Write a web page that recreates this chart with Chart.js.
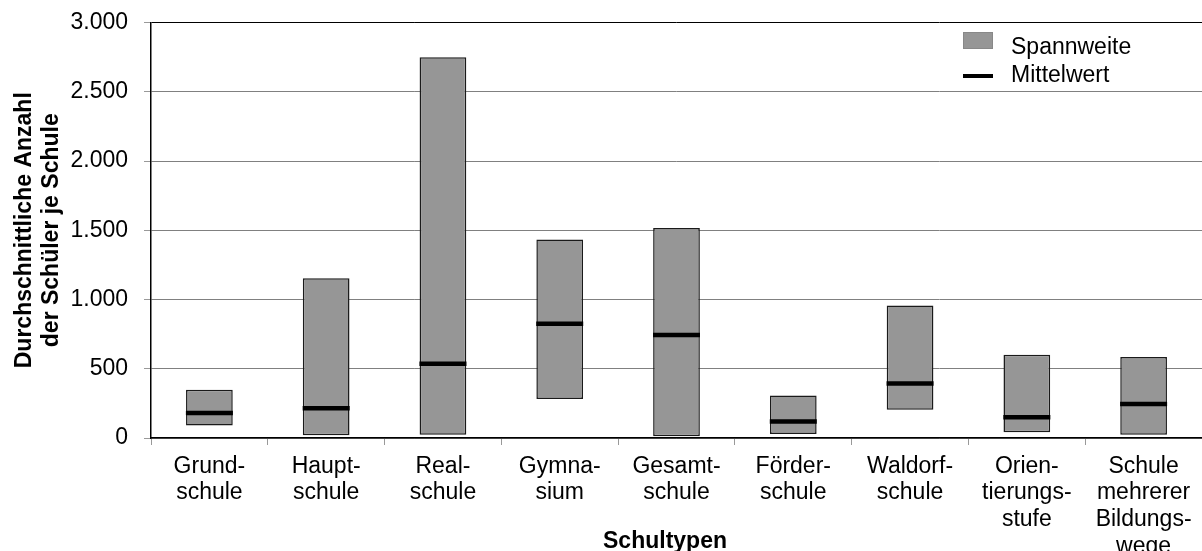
<!DOCTYPE html>
<html>
<head>
<meta charset="utf-8">
<script src="https://cdn.jsdelivr.net/npm/chart.js@4/dist/chart.umd.min.js"></script>
<style>
  body { margin: 0; background: #fff; }
  canvas { display: block; }
</style>
</head>
<body>
<canvas id="chart" width="1202" height="551"></canvas>
<script>
// Schultypen
const categories = [
    ['Grund-', 'schule'],
    ['Haupt-', 'schule'],
    ['Real-', 'schule'],
    ['Gymna-', 'sium'],
    ['Gesamt-', 'schule'],
    ['Förder-', 'schule'],
    ['Waldorf-', 'schule'],
    ['Orien-', 'tierungs-', 'stufe'],
    ['Schule', 'mehrerer', 'Bildungs-', 'wege']
];
// Spannweite (min / max) und Mittelwert
const minValues = [91, 19, 24, 281, 12, 29, 204, 41, 24];
const maxValues = [348, 1154, 2749, 1433, 1517, 307, 957, 601, 584];
const meanValues = [180, 214, 536, 825, 743, 120, 394, 149, 245];
const yTickLabels = ['0', '500', '1.000', '1.500', '2.000', '2.500', '3.000'];

const FONT = "'Liberation Sans', Arial, sans-serif";
Chart.defaults.font.family = FONT;
Chart.defaults.color = '#000';

// legend inside the plot (top right) and x axis title
const legendPlugin = {
    id: 'rangeLegend',
    afterDraw(chart) {
        const ctx = chart.ctx;
        ctx.save();
        ctx.fillStyle = '#969696';
        ctx.fillRect(963, 32, 30, 17);
        ctx.strokeStyle = '#888';
        ctx.lineWidth = 1;
        ctx.strokeRect(963.5, 32.5, 29, 16);
        ctx.fillStyle = '#000';
        ctx.fillRect(963, 74, 30, 4);
        ctx.font = '23px ' + FONT;
        ctx.textBaseline = 'alphabetic';
        ctx.fillText('Spannweite', 1011, 54);
        ctx.fillText('Mittelwert', 1011, 82);
        ctx.font = 'bold 23px ' + FONT;
        ctx.textAlign = 'center';
        ctx.fillText('Schultypen', 665, 548);
        ctx.restore();
    }
};

var rangeData = minValues.map(function(v, i) { return [v, maxValues[i]]; });

var chart = new Chart(document.getElementById('chart'), {
    type: 'bar',
    data: {
        labels: categories,
        datasets: [{
            type: 'line',
            label: 'Mittelwert',
            data: meanValues,
            showLine: false,
            pointStyle: 'line',
            pointRadius: 23.5,
            pointHoverRadius: 23.5,
            pointBorderWidth: 4.5,
            pointBorderColor: '#000',
            borderColor: '#000',
            clip: false,
            order: 0
        }, {
            label: 'Spannweite',
            data: rangeData,
            backgroundColor: '#969696',
            borderColor: '#1a1a1a',
            borderWidth: 1.5,
            borderSkipped: false,
            barPercentage: 0.4,
            categoryPercentage: 1.0,
            order: 1
        }]
    },
    options: {
        responsive: false,
        animation: false,
        layout: { autoPadding: false, padding: { top: 22.5, right: 0, left: 0, bottom: 0 } },
        plugins: {
            legend: { display: false },
            tooltip: { enabled: false }
        },
        scales: {
            x: {
                grid: {
                    drawOnChartArea: false,
                    tickLength: 7,
                    tickColor: '#999',
                    offset: true
                },
                border: { color: '#000', width: 1.5 },
                ticks: {
                    font: { size: 23, lineHeight: 1.16 },
                    padding: 8,
                    maxRotation: 0,
                    autoSkip: false
                },
                afterFit: function(scale) {
                    scale.height = 113;
                    scale.paddingLeft = 0;
                    scale.paddingRight = 0;
                }
            },
            y: {
                min: 0,
                max: 3000,
                grid: {
                    color: function(c) { return c.tick && c.tick.value === 3000 ? '#000' : '#808080'; },
                    tickColor: '#999',
                    tickLength: 7
                },
                border: { color: '#000', width: 1.5 },
                ticks: {
                    stepSize: 500,
                    font: { size: 23 },
                    padding: 16,
                    callback: function(value, index) { return yTickLabels[index]; }
                },
                title: {
                    display: true,
                    text: ['Durchschnittliche Anzahl', 'der Schüler je Schule'],
                    font: { size: 23, weight: 'bold', lineHeight: 1.17 },
                    padding: { top: 11, bottom: 0 }
                },
                afterFit: function(scale) {
                    scale.width = 151;
                    scale.paddingTop = 0;
                    scale.paddingBottom = 0;
                }
            }
        }
    },
    plugins: [legendPlugin]
});
</script>
</body>
</html>
